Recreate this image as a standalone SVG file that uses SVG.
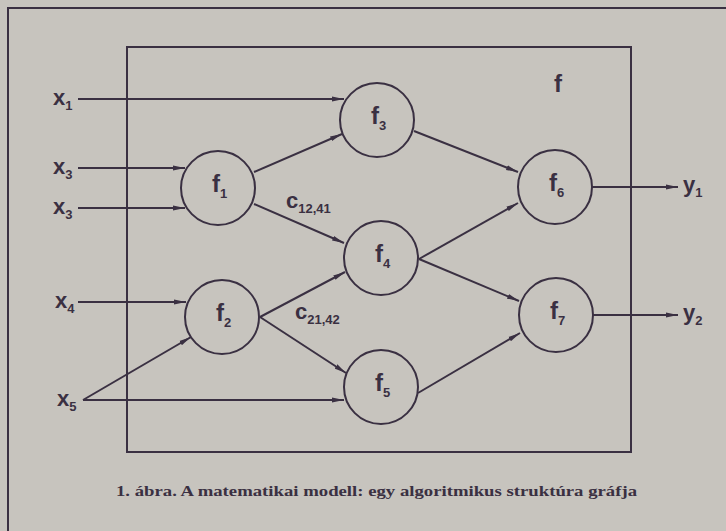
<svg xmlns="http://www.w3.org/2000/svg" width="726" height="531" viewBox="0 0 726 531">
<defs>
<marker id="ah" viewBox="0 0 12 6" refX="12" refY="3" markerWidth="12" markerHeight="6" markerUnits="userSpaceOnUse" orient="auto">
<path d="M0,0.5 L12,3 L0,5.5 Z" fill="#3a3042"/>
</marker>
<style>
.ln{stroke:#3a3042;stroke-width:2;fill:none}
.ar{stroke:#3a3042;stroke-width:2;fill:none;marker-end:url(#ah)}
.nd{stroke:#3a3042;stroke-width:2;fill:none}
.lb{font-family:"Liberation Sans Narrow","Liberation Sans",Arial,sans-serif;font-weight:bold;font-size:22px;fill:#3a3042}
.fl{font-family:"Liberation Sans Narrow","Liberation Sans",Arial,sans-serif;font-weight:bold;font-size:24px;fill:#3a3042}
.sb{font-size:13px}
.cap{font-family:"Liberation Serif","Times New Roman",serif;font-weight:bold;font-size:15px;fill:#3a3042}
</style>
</defs>
<rect x="0" y="0" width="726" height="531" fill="#c7c4be"/>
<g id="frame">
<path class="ln" d="M8,531 L8,8 L726,8"/>
<rect class="ln" x="127" y="47" width="504" height="405"/>
</g>
<g id="connectors">
<line class="ar" x1="78" y1="99" x2="344" y2="99"/>
<line class="ar" x1="78" y1="168" x2="185" y2="168"/>
<line class="ar" x1="78" y1="208" x2="185" y2="208"/>
<line class="ar" x1="78" y1="302" x2="186" y2="302"/>
<line class="ar" x1="83" y1="400" x2="191" y2="337"/>
<line class="ar" x1="83" y1="400" x2="344" y2="400"/>
<line class="ar" x1="254" y1="172" x2="342" y2="134"/>
<line class="ar" x1="254" y1="204" x2="344" y2="243"/>
<line class="ar" x1="260" y1="317" x2="345" y2="272"/>
<line class="ar" x1="260" y1="317" x2="346" y2="373"/>
<line class="ar" x1="414" y1="131" x2="518" y2="172"/>
<line class="ar" x1="419" y1="259" x2="518" y2="203"/>
<line class="ar" x1="419" y1="259" x2="519" y2="301"/>
<line class="ar" x1="418" y1="393" x2="520" y2="333"/>
<line class="ar" x1="592" y1="187" x2="678" y2="187"/>
<line class="ar" x1="593" y1="315" x2="678" y2="315"/>
</g>
<g id="f1"><circle class="nd" cx="218" cy="188" r="37"/><text class="fl" x="212" y="192">f<tspan class="sb" dy="6">1</tspan></text></g>
<g id="f2"><circle class="nd" cx="222" cy="317" r="37"/><text class="fl" x="216" y="321">f<tspan class="sb" dy="6">2</tspan></text></g>
<g id="f3"><circle class="nd" cx="377" cy="120" r="37"/><text class="fl" x="371" y="124">f<tspan class="sb" dy="6">3</tspan></text></g>
<g id="f4"><circle class="nd" cx="381" cy="258" r="37"/><text class="fl" x="375" y="262">f<tspan class="sb" dy="6">4</tspan></text></g>
<g id="f5"><circle class="nd" cx="381" cy="387" r="37"/><text class="fl" x="375" y="391">f<tspan class="sb" dy="6">5</tspan></text></g>
<g id="f6"><circle class="nd" cx="555" cy="187" r="37"/><text class="fl" x="549" y="191">f<tspan class="sb" dy="6">6</tspan></text></g>
<g id="f7"><circle class="nd" cx="556" cy="315" r="37"/><text class="fl" x="550" y="319">f<tspan class="sb" dy="6">7</tspan></text></g>
<g id="labels">
<text class="lb" x="53" y="105">x<tspan class="sb" dy="5">1</tspan></text>
<text class="lb" x="53" y="174">x<tspan class="sb" dy="5">3</tspan></text>
<text class="lb" x="53" y="214">x<tspan class="sb" dy="5">3</tspan></text>
<text class="lb" x="55" y="308">x<tspan class="sb" dy="5">4</tspan></text>
<text class="lb" x="57" y="406">x<tspan class="sb" dy="5">5</tspan></text>
<text class="lb" x="683" y="192">y<tspan class="sb" dy="5">1</tspan></text>
<text class="lb" x="683" y="320">y<tspan class="sb" dy="5">2</tspan></text>
<text class="fl" x="554" y="92">f</text>
<text class="lb" x="286" y="208">c<tspan class="sb" dy="5">12,41</tspan></text>
<text class="lb" x="295" y="319">c<tspan class="sb" dy="5">21,42</tspan></text>
<text class="cap" x="116" y="496" textLength="521" lengthAdjust="spacingAndGlyphs">1. ábra. A matematikai modell: egy algoritmikus struktúra gráfja</text>
</g>
</svg>
